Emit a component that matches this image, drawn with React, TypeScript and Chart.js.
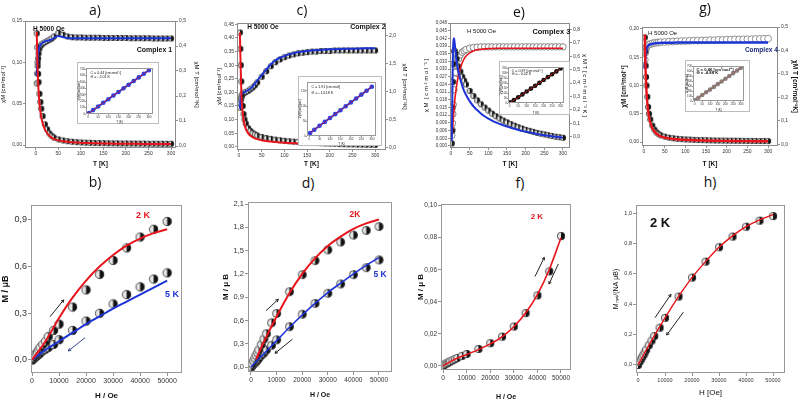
import React, { useEffect, useRef } from 'react';
import { Chart, registerables } from 'chart.js';

Chart.register(...registerables);
Chart.defaults.font.family = '"Liberation Sans", Arial, sans-serif';

// ---------------- DATA ----------------
const T_TOP = [2, 3, 4, 5, 6, 8, 10, 12, 15, 20, 25, 30, 35, 40, 50, 60, 70, 80, 90, 100, 110, 120, 130, 140, 150, 160, 170, 180, 190, 200, 210, 220, 230, 240, 250, 260, 270, 280, 290, 300];
const T_TICKS = [0, 50, 100, 150, 200, 250, 300];

// Complex 1 (a)
const CHI_A = [0.135, 0.118, 0.100, 0.086, 0.076, 0.062, 0.052, 0.044, 0.035, 0.025, 0.019, 0.014, 0.011, 0.0090, 0.0068, 0.0055, 0.0046, 0.0040, 0.0035, 0.0031, 0.0029, 0.0027, 0.0025, 0.0024, 0.0023, 0.0022, 0.0021, 0.0020, 0.0019, 0.0019, 0.0018, 0.0018, 0.0017, 0.0017, 0.0016, 0.0016, 0.0016, 0.0015, 0.0015, 0.0015];
const FIT_CHI_A = [0.137, 0.112, 0.092, 0.077, 0.066, 0.051, 0.041, 0.034, 0.027, 0.019, 0.0145, 0.0112, 0.0090, 0.0074, 0.0056, 0.0046, 0.0039, 0.0034, 0.0030, 0.0027, 0.0025, 0.0023, 0.0021, 0.0020, 0.0019, 0.0018, 0.0017, 0.0016, 0.0016, 0.0015, 0.0015, 0.0014, 0.0014, 0.0013, 0.0013, 0.0013, 0.0012, 0.0012, 0.0012, 0.0011];
const CHIT_A = [0.25, 0.29, 0.32, 0.35, 0.37, 0.39, 0.40, 0.405, 0.41, 0.415, 0.42, 0.425, 0.43, 0.438, 0.452, 0.445, 0.438, 0.435, 0.434, 0.434, 0.433, 0.433, 0.433, 0.433, 0.432, 0.432, 0.432, 0.432, 0.432, 0.432, 0.431, 0.431, 0.431, 0.431, 0.431, 0.430, 0.430, 0.430, 0.430, 0.430];
const FIT_CHIT_A = [0.28, 0.32, 0.35, 0.37, 0.38, 0.395, 0.403, 0.408, 0.413, 0.418, 0.421, 0.423, 0.426, 0.432, 0.440, 0.436, 0.432, 0.431, 0.431, 0.431, 0.431, 0.431, 0.431, 0.431, 0.431, 0.431, 0.431, 0.431, 0.431, 0.431, 0.431, 0.431, 0.431, 0.431, 0.431, 0.431, 0.431, 0.431, 0.431, 0.431];

// Complex 2 (c)
const CHI_C = [0.42, 0.36, 0.30, 0.24, 0.19, 0.15, 0.12, 0.10, 0.085, 0.068, 0.058, 0.050, 0.045, 0.041, 0.036, 0.032, 0.029, 0.026, 0.024, 0.022, 0.020, 0.019, 0.018, 0.017, 0.016, 0.015, 0.014, 0.013, 0.012, 0.0115, 0.011, 0.010, 0.0095, 0.009, 0.0085, 0.008, 0.0077, 0.0074, 0.0071, 0.0068];
const FIT_CHI_C = [0.42, 0.34, 0.27, 0.21, 0.17, 0.13, 0.10, 0.083, 0.066, 0.050, 0.041, 0.035, 0.031, 0.028, 0.024, 0.021, 0.019, 0.017, 0.016, 0.0148, 0.0138, 0.013, 0.0122, 0.0115, 0.011, 0.0104, 0.0099, 0.0094, 0.009, 0.0086, 0.0082, 0.0079, 0.0076, 0.0073, 0.007, 0.0067, 0.0065, 0.0063, 0.0061, 0.0059];
const CHIT_C = [0.72, 0.80, 0.86, 0.90, 0.93, 0.96, 0.98, 0.99, 1.00, 1.02, 1.05, 1.08, 1.12, 1.17, 1.27, 1.37, 1.46, 1.53, 1.58, 1.62, 1.65, 1.67, 1.69, 1.70, 1.71, 1.72, 1.72, 1.73, 1.73, 1.73, 1.74, 1.74, 1.74, 1.74, 1.74, 1.74, 1.74, 1.74, 1.74, 1.74];
const FIT_CHIT_C = [0.70, 0.82, 0.90, 0.94, 0.96, 0.98, 0.99, 1.00, 1.01, 1.03, 1.06, 1.10, 1.15, 1.20, 1.30, 1.40, 1.49, 1.56, 1.61, 1.64, 1.67, 1.69, 1.71, 1.72, 1.73, 1.74, 1.745, 1.75, 1.755, 1.76, 1.76, 1.765, 1.77, 1.77, 1.77, 1.775, 1.775, 1.78, 1.78, 1.78];

// Complex 3 (e)
const CHI_E = [0.001, 0.006, 0.015, 0.025, 0.032, 0.037, 0.037, 0.036, 0.034, 0.031, 0.029, 0.027, 0.0255, 0.024, 0.0215, 0.0195, 0.0178, 0.0163, 0.015, 0.0138, 0.0126, 0.0116, 0.0107, 0.0099, 0.0092, 0.0085, 0.0079, 0.0073, 0.0068, 0.0063, 0.0059, 0.0055, 0.0051, 0.0048, 0.0045, 0.0042, 0.0039, 0.0036, 0.0034, 0.0032];
const FIT_CHI_E = [0.002, 0.012, 0.025, 0.035, 0.040, 0.042, 0.040, 0.037, 0.033, 0.029, 0.026, 0.0235, 0.0215, 0.020, 0.0175, 0.0155, 0.014, 0.0127, 0.0116, 0.0107, 0.0099, 0.0092, 0.0086, 0.0081, 0.0076, 0.0071, 0.0067, 0.0063, 0.0059, 0.0056, 0.0053, 0.005, 0.0047, 0.0044, 0.0042, 0.004, 0.0038, 0.0036, 0.0034, 0.0032];
const CHIT_E = [0.01, 0.05, 0.10, 0.17, 0.24, 0.35, 0.43, 0.48, 0.53, 0.58, 0.61, 0.63, 0.64, 0.65, 0.66, 0.665, 0.668, 0.67, 0.67, 0.67, 0.67, 0.67, 0.67, 0.67, 0.67, 0.67, 0.67, 0.67, 0.67, 0.67, 0.67, 0.67, 0.67, 0.67, 0.67, 0.67, 0.67, 0.67, 0.67, 0.67];
const FIT_CHIT_E = [0.0, 0.02, 0.05, 0.09, 0.13, 0.20, 0.27, 0.32, 0.38, 0.46, 0.51, 0.55, 0.58, 0.60, 0.625, 0.64, 0.648, 0.652, 0.655, 0.657, 0.658, 0.659, 0.66, 0.66, 0.66, 0.66, 0.66, 0.66, 0.66, 0.66, 0.66, 0.66, 0.66, 0.66, 0.66, 0.66, 0.66, 0.66, 0.66, 0.66];

// Complex 4 (g)
const CHI_G = [0.185, 0.160, 0.135, 0.115, 0.100, 0.080, 0.062, 0.050, 0.040, 0.029, 0.022, 0.017, 0.014, 0.012, 0.0095, 0.0078, 0.0067, 0.0058, 0.0052, 0.0047, 0.0043, 0.0039, 0.0036, 0.0034, 0.0032, 0.003, 0.0028, 0.0027, 0.0026, 0.0025, 0.0024, 0.0023, 0.0022, 0.0021, 0.002, 0.002, 0.0019, 0.0018, 0.0018, 0.0017];
const FIT_CHI_G = [0.190, 0.150, 0.125, 0.105, 0.090, 0.070, 0.055, 0.045, 0.035, 0.025, 0.019, 0.015, 0.012, 0.010, 0.008, 0.0066, 0.0056, 0.0049, 0.0043, 0.0039, 0.0035, 0.0032, 0.003, 0.0028, 0.0026, 0.0024, 0.0023, 0.0022, 0.0021, 0.002, 0.0019, 0.0018, 0.0017, 0.0017, 0.0016, 0.0015, 0.0015, 0.0014, 0.0014, 0.0014];
const CHIT_G = [0.36, 0.39, 0.40, 0.41, 0.415, 0.42, 0.423, 0.425, 0.427, 0.43, 0.432, 0.433, 0.434, 0.435, 0.436, 0.437, 0.438, 0.439, 0.44, 0.44, 0.441, 0.442, 0.442, 0.443, 0.443, 0.444, 0.444, 0.445, 0.445, 0.446, 0.446, 0.447, 0.447, 0.447, 0.448, 0.448, 0.449, 0.449, 0.45, 0.45];
const FIT_CHIT_G = [0.32, 0.36, 0.38, 0.395, 0.405, 0.415, 0.42, 0.423, 0.426, 0.428, 0.43, 0.431, 0.432, 0.432, 0.433, 0.433, 0.433, 0.434, 0.434, 0.434, 0.434, 0.434, 0.434, 0.434, 0.434, 0.434, 0.434, 0.434, 0.434, 0.434, 0.434, 0.434, 0.434, 0.434, 0.434, 0.434, 0.434, 0.434, 0.434, 0.434];

// Insets: 1/chi vs T
const INSET_T = [5, 25, 50, 75, 100, 125, 150, 175, 200, 225, 250, 275, 300];
const INV_A = [16, 61, 118, 175, 232, 289, 345, 402, 459, 516, 573, 630, 686];
const INV_C = [10, 21, 34, 47, 60, 73, 86, 99, 112, 125, 138, 151, 164];
const INV_E = [6, 29, 57, 86, 115, 144, 172, 201, 230, 259, 287, 316, 345];
const INV_G = [21, 65, 119, 174, 228, 282, 337, 391, 445, 500, 554, 608, 663];

// Magnetization
const H = [0, 500, 1000, 1500, 2000, 2500, 3000, 4000, 5000, 6000, 8000, 10000, 15000, 20000, 25000, 30000, 35000, 40000, 45000, 50000];
const H_FIT = [0, 5000, 10000, 15000, 20000, 25000, 30000, 35000, 40000, 45000, 50000];
const H_FIT_D2 = [2000, 5000, 10000, 15000, 20000, 25000, 30000, 35000, 40000, 45000, 50000];
const H_TICKS = [0, 10000, 20000, 30000, 40000, 50000];

const M_B_2K = [0, 0.015, 0.03, 0.04, 0.05, 0.065, 0.08, 0.10, 0.12, 0.15, 0.19, 0.23, 0.34, 0.45, 0.55, 0.64, 0.72, 0.79, 0.84, 0.89];
const M_B_5K = [0, 0.008, 0.015, 0.022, 0.03, 0.037, 0.045, 0.06, 0.07, 0.08, 0.10, 0.13, 0.19, 0.25, 0.30, 0.36, 0.42, 0.47, 0.52, 0.56];
const FIT_B_2K = [0, 0.12, 0.27, 0.40, 0.51, 0.60, 0.675, 0.735, 0.78, 0.815, 0.84];
const FIT_B_5K = [0, 0.065, 0.12, 0.175, 0.23, 0.28, 0.33, 0.375, 0.42, 0.465, 0.51];

const M_D_2K = [0, 0.04, 0.08, 0.115, 0.15, 0.185, 0.22, 0.29, 0.36, 0.43, 0.57, 0.69, 0.97, 1.19, 1.37, 1.51, 1.61, 1.70, 1.76, 1.81];
const M_D_5K = [0, 0.02, 0.04, 0.055, 0.07, 0.09, 0.11, 0.15, 0.18, 0.22, 0.28, 0.35, 0.52, 0.68, 0.82, 0.95, 1.07, 1.19, 1.28, 1.38];
const FIT_D_2K = [0.10, 0.32, 0.65, 0.95, 1.20, 1.40, 1.56, 1.68, 1.78, 1.85, 1.90];
const FIT_D_5K = [0, 0.17, 0.34, 0.51, 0.67, 0.82, 0.96, 1.08, 1.20, 1.31, 1.41];

const M_F_2K = [0, 0.0008, 0.0013, 0.0017, 0.0021, 0.0025, 0.0029, 0.0036, 0.0043, 0.005, 0.0063, 0.0075, 0.0106, 0.0142, 0.0183, 0.0246, 0.033, 0.044, 0.059, 0.081];
const FIT_F_2K = [0, 0.0042, 0.0072, 0.0102, 0.0138, 0.0182, 0.0245, 0.0330, 0.0445, 0.0600, 0.0800];

const M_H_2K = [0, 0.02, 0.035, 0.05, 0.065, 0.082, 0.10, 0.13, 0.16, 0.19, 0.245, 0.31, 0.45, 0.575, 0.68, 0.775, 0.845, 0.91, 0.95, 0.98];
const FIT_H_2K = [0, 0.16, 0.31, 0.45, 0.575, 0.68, 0.775, 0.85, 0.91, 0.955, 0.99];

// ---------------- HELPERS ----------------
const RED = '#e8141c';
const BLUE = '#1d33d6';

const fmt = (v: number, d: number) => (d === 0 ? String(Math.round(v)) : v.toFixed(d).replace('.', ','));
const pts = (xs: number[], ys: number[]) => xs.map((x, i) => ({ x, y: ys[i] }));

function halfMarker(r: number) {
  const c = document.createElement('canvas');
  const s = Math.ceil(2 * r + 2);
  c.width = s; c.height = s;
  const g = c.getContext('2d')!;
  const cx = s / 2, cy = s / 2;
  g.beginPath(); g.arc(cx, cy, r, 0, Math.PI * 2); g.fillStyle = '#e6e6e6'; g.fill();
  g.beginPath(); g.moveTo(cx, cy - r); g.arc(cx, cy, r, -Math.PI / 2, Math.PI / 2); g.closePath(); g.fillStyle = '#111'; g.fill();
  g.beginPath(); g.arc(cx, cy, r - 0.3, 0, Math.PI * 2); g.strokeStyle = '#333'; g.lineWidth = 0.8; g.stroke();
  return c;
}

const fitLine = (xs: number[], ys: number[], color: string, w: number, axisId = 'y', dash: number[] = []) => ({
  data: pts(xs, ys), borderColor: color, borderWidth: w, pointRadius: 0, showLine: true,
  cubicInterpolationMode: 'monotone', yAxisID: axisId, borderDash: dash, fill: false,
});
const markers = (xs: number[], ys: number[], style: any, axisId = 'y', r = 3, bg = '#fff', bc = '#444') => ({
  data: pts(xs, ys), showLine: false, pointStyle: style, pointRadius: r, pointBorderColor: bc,
  pointBackgroundColor: bg, pointBorderWidth: 0.8, borderColor: bc, backgroundColor: bg, yAxisID: axisId,
});

function axis(o: any, pos: string, size: number) {
  const horiz = pos === 'bottom';
  return {
    type: 'linear', position: pos, min: o.min, max: o.max,
    afterBuildTicks: (s: any) => { s.ticks = o.ticks.map((v: number) => ({ value: v })); },
    afterFit: (s: any) => {
      if (horiz) s.height = size; else s.width = size;
      s.paddingLeft = 0; s.paddingRight = 0; s.paddingTop = 0; s.paddingBottom = 0;
    },
    ticks: {
      autoSkip: false, maxRotation: 0, minRotation: 0, padding: o.tp ?? 1, color: o.tc ?? '#333',
      font: { size: o.fs, weight: o.fw ?? 'normal' }, callback: (v: any) => fmt(Number(v), o.dec),
    },
    grid: { drawOnChartArea: false, drawTicks: true, tickLength: o.tl ?? 2, color: '#777', lineWidth: 0.8 },
    border: { display: false },
    title: {
      display: !!o.title, text: o.title, color: '#111',
      font: { size: o.tfs, weight: o.tb ? 'bold' : 'normal' }, padding: { top: 0, bottom: 0 },
    },
  };
}

const extrasPlugin = {
  id: 'extras',
  beforeDraw(chart: any, _a: any, opts: any) {
    if (opts.bg) {
      const { ctx, width, height } = chart;
      ctx.save(); ctx.fillStyle = opts.bg; ctx.fillRect(0, 0, width, height);
      if (opts.outer) { ctx.strokeStyle = opts.outer; ctx.lineWidth = 1; ctx.strokeRect(0.5, 0.5, width - 1, height - 1); }
      ctx.restore();
    }
  },
  afterDatasetsDraw(chart: any, _a: any, opts: any) {
    const { ctx, chartArea: a, scales } = chart;
    ctx.save();
    if (opts.frame) {
      ctx.strokeStyle = opts.frame; ctx.lineWidth = 1;
      ctx.strokeRect(Math.round(a.left) + 0.5, Math.round(a.top) + 0.5, Math.round(a.width) - 1, Math.round(a.height) - 1);
    }
    (opts.arrows || []).forEach((ar: any) => {
      const x1 = scales.x.getPixelForValue(ar.x1), y1 = scales.y.getPixelForValue(ar.y1);
      const x2 = scales.x.getPixelForValue(ar.x2), y2 = scales.y.getPixelForValue(ar.y2);
      ctx.strokeStyle = ar.color; ctx.lineWidth = 1;
      ctx.beginPath(); ctx.moveTo(x1, y1); ctx.lineTo(x2, y2); ctx.stroke();
      const ang = Math.atan2(y2 - y1, x2 - x1);
      ctx.beginPath();
      ctx.moveTo(x2, y2); ctx.lineTo(x2 - 3 * Math.cos(ang - 0.5), y2 - 3 * Math.sin(ang - 0.5));
      ctx.moveTo(x2, y2); ctx.lineTo(x2 - 3 * Math.cos(ang + 0.5), y2 - 3 * Math.sin(ang + 0.5));
      ctx.stroke();
    });
    (opts.texts || []).forEach((t: any) => {
      const x = scales.x.getPixelForValue(t.x), y = scales.y.getPixelForValue(t.y);
      ctx.font = t.font; ctx.fillStyle = t.color || '#111';
      ctx.textAlign = t.align || 'left'; ctx.textBaseline = 'middle';
      ctx.fillText(t.text, x, y);
    });
    ctx.restore();
  },
};

function build(canvas: HTMLCanvasElement, spec: any) {
  const scales: any = {
    x: axis(spec.x, 'bottom', spec.bh),
    y: axis(spec.y, 'left', spec.lw),
  };
  if (spec.y2) scales.y2 = axis(spec.y2, 'right', spec.rw);
  return new Chart(canvas, {
    type: 'line',
    data: { datasets: spec.datasets },
    options: {
      responsive: false, maintainAspectRatio: false, animation: false,
      layout: { padding: { top: spec.pt, left: 0, right: spec.y2 ? 0 : spec.rw, bottom: 0 } },
      scales,
      plugins: {
        legend: { display: false }, tooltip: { enabled: false },
        extras: { frame: spec.frame || '#8a8a8a', texts: spec.texts || [], arrows: spec.arrows || [], bg: spec.bg, outer: spec.outer },
      } as any,
    } as any,
    plugins: [extrasPlugin as any],
  });
}

// ---------------- PANEL SPECS ----------------
const TOP_FS = 5, TOP_TFS = 6;
const CHI_TITLE = 'χM [cm³mol⁻¹]';
const CHIT_TITLE = 'χM T [cm³mol⁻¹K]';

const topX = (min: number, max: number) => ({ min, max, ticks: T_TICKS, dec: 0, fs: TOP_FS, title: 'T [K]', tfs: 6.5, tb: true });

function specA() {
  const m = halfMarker(3);
  return {
    lw: 25, rw: 24, pt: 9, bh: 20,
    x: topX(-24, 311),
    y: { min: -0.0036, max: 0.15, ticks: [0, 0.05, 0.1, 0.15], dec: 2, fs: TOP_FS, title: CHI_TITLE, tfs: TOP_TFS },
    y2: { min: -0.008, max: 0.5, ticks: [0, 0.1, 0.2, 0.3, 0.4, 0.5], dec: 1, fs: TOP_FS, title: CHIT_TITLE, tfs: TOP_TFS },
    datasets: [
      fitLine(T_TOP, FIT_CHI_A, RED, 2),
      fitLine(T_TOP, FIT_CHIT_A, BLUE, 2, 'y2'),
      markers(T_TOP, CHI_A, m),
      markers(T_TOP, CHIT_A, m, 'y2'),
    ],
    texts: [
      { text: 'H 5000 Oe', x: -6, y: 0.140, font: 'bold 6.5px "Liberation Sans", Arial' },
      { text: 'Complex 1', x: 224, y: 0.115, font: 'bold 7px "Liberation Sans", Arial' },
    ],
  };
}

function specC() {
  const m = halfMarker(3);
  return {
    lw: 21, rw: 22, pt: 11, bh: 18,
    x: topX(-4.4, 324),
    y: { min: -0.012, max: 0.455, ticks: [0, 0.05, 0.1, 0.15, 0.2, 0.25, 0.3, 0.35, 0.4, 0.45], dec: 2, fs: TOP_FS, title: CHI_TITLE, tfs: TOP_TFS },
    y2: { min: -0.036, max: 2.23, ticks: [0, 0.5, 1, 1.5, 2], dec: 1, fs: TOP_FS, title: CHIT_TITLE, tfs: TOP_TFS },
    datasets: [
      fitLine(T_TOP, FIT_CHI_C, RED, 2),
      fitLine(T_TOP, FIT_CHIT_C, BLUE, 2, 'y2'),
      markers(T_TOP, CHI_C, m),
      markers(T_TOP, CHIT_C, m, 'y2'),
    ],
    texts: [
      { text: 'H 5000 Oe', x: 18, y: 0.44, font: 'bold 6.5px "Liberation Sans", Arial' },
      { text: 'Complex 2', x: 245, y: 0.44, font: 'bold 7px "Liberation Sans", Arial' },
    ],
  };
}

function specE() {
  const m = halfMarker(3);
  return {
    lw: 27, rw: 18, pt: 11, bh: 20,
    x: topX(-2.7, 318.8),
    y: {
      min: -0.0008, max: 0.048,
      ticks: [0, 0.003, 0.006, 0.009, 0.012, 0.015, 0.018, 0.021, 0.024, 0.027, 0.030, 0.033, 0.036, 0.039, 0.042, 0.045, 0.048],
      dec: 3, fs: 4.5, title: 'χ M  [ c m ³ m o l ⁻¹ ]', tfs: TOP_TFS,
    },
    y2: { min: -0.084, max: 0.848, ticks: [0, 0.1, 0.2, 0.3, 0.4, 0.5, 0.6, 0.7, 0.8], dec: 1, fs: TOP_FS, title: 'χ M T [ c m ³ m o l ⁻¹ K ]', tfs: TOP_TFS },
    datasets: [
      fitLine(T_TOP, FIT_CHI_E, BLUE, 2),
      fitLine(T_TOP, FIT_CHIT_E, RED, 1.6, 'y2'),
      markers(T_TOP, CHI_E, m),
      markers(T_TOP, CHIT_E, 'circle', 'y2', 3.2, '#fff', '#666'),
    ],
    texts: [
      { text: 'H 5000 Oe', x: 43, y: 0.0446, font: '6px "Liberation Sans", Arial' },
      { text: 'Complex 3', x: 218, y: 0.0446, font: 'bold 7.5px "Liberation Sans", Arial' },
    ],
  };
}

function specG() {
  const m = halfMarker(3);
  return {
    lw: 22, rw: 21, pt: 15, bh: 22,
    x: topX(-4.8, 324),
    y: { min: -0.007, max: 0.2035, ticks: [0, 0.05, 0.1, 0.15, 0.2], dec: 2, fs: TOP_FS, title: CHI_TITLE, tfs: 6.5, tb: true },
    y2: { min: -0.008, max: 0.5, ticks: [0, 0.1, 0.2, 0.3, 0.4, 0.5], dec: 1, fs: TOP_FS, title: CHIT_TITLE, tfs: 6.5, tb: true },
    datasets: [
      fitLine(T_TOP, FIT_CHI_G, RED, 2.4),
      fitLine(T_TOP, FIT_CHIT_G, BLUE, 2.4, 'y2'),
      markers(T_TOP, CHI_G, m),
      markers(T_TOP, CHIT_G, 'circle', 'y2', 3.4, '#fff', '#777'),
    ],
    texts: [
      { text: 'H 5000 Oe', x: 10, y: 0.193, font: '6px "Liberation Sans", Arial' },
      { text: 'Complex 4', x: 244, y: 0.163, font: 'bold 6.5px "Liberation Sans", Arial', color: '#1b2a7a' },
    ],
  };
}

const insetX = { min: -10, max: 320, ticks: T_TICKS, dec: 0, fs: 3, title: 'T (K)', tfs: 3, tl: 1, tp: 0 };
function specInset(inv: number[], yTicks: number[], ymax: number, pointColor: string, lineColor: string, t1: string, t2: string, big = false) {
  return {
    lw: 9, rw: 3, pt: 4, bh: 10, bg: '#fff', outer: '#bdbdbd', frame: '#999',
    x: insetX,
    y: { min: 0, max: ymax, ticks: yTicks, dec: 0, fs: 3, title: '1/χM [mol/cm³]', tfs: 3, tl: 1, tp: 0 },
    datasets: [
      fitLine(INSET_T, inv, lineColor, 1, 'y', [2, 1]),
      { data: pts(INSET_T, inv), borderColor: pointColor, borderWidth: 2, showLine: true, pointRadius: 1.3, pointBackgroundColor: pointColor, pointBorderColor: pointColor, yAxisID: 'y' },
    ],
    texts: [
      { text: t1, x: 12, y: ymax * 0.9, font: (big ? 'bold 4.2px' : '3.6px') + ' "Liberation Sans", Arial' },
      { text: t2, x: 12, y: ymax * 0.8, font: (big ? 'bold 4.2px' : '3.6px') + ' "Liberation Sans", Arial' },
    ],
  };
}

const botX = (min: number, max: number, fs: number, title: string, tfs: number, tb: boolean) => ({ min, max, ticks: H_TICKS, dec: 0, fs, title, tfs, tb, tl: 3 });

function specB() {
  const m = halfMarker(4.5);
  return {
    lw: 31, rw: 18, pt: 13, bh: 28, frame: '#9a9a9a',
    x: botX(-370, 55500, 7, 'H / Oe', 8, true),
    y: { min: -0.084, max: 0.996, ticks: [0, 0.3, 0.6, 0.9], dec: 1, fs: 9, title: 'M / μB', tfs: 9, tb: true, tl: 3 },
    datasets: [
      fitLine(H_FIT, FIT_B_2K, RED, 2),
      fitLine(H_FIT, FIT_B_5K, BLUE, 2),
      markers(H, M_B_2K, m),
      markers(H, M_B_5K, m),
    ],
    texts: [
      { text: '2 K', x: 41100, y: 0.93, font: 'bold 9px "Liberation Sans", Arial', color: RED, align: 'center' },
      { text: '5 K', x: 51800, y: 0.42, font: 'bold 9px "Liberation Sans", Arial', color: BLUE, align: 'center' },
    ],
    arrows: [
      { x1: 6670, y1: 0.278, x2: 11740, y2: 0.386, color: '#222' },
      { x1: 19630, y1: 0.143, x2: 13440, y2: 0.058, color: '#3b4a8a' },
    ],
  };
}

function specD() {
  const m = halfMarker(4.3);
  return {
    lw: 27, rw: 8, pt: 10, bh: 27, frame: '#9a9a9a',
    x: botX(-1170, 55080, 6.5, 'H / Oe', 7, true),
    y: { min: -0.064, max: 2.126, ticks: [0, 0.3, 0.6, 0.9, 1.2, 1.5, 1.8, 2.1], dec: 1, fs: 7.5, title: 'M / μ B', tfs: 8, tb: true, tl: 3 },
    datasets: [
      fitLine(H_FIT_D2, FIT_D_2K, RED, 2),
      fitLine(H_FIT, FIT_D_5K, BLUE, 1.6),
      markers(H, M_D_2K, m),
      markers(H, M_D_5K, m),
    ],
    texts: [
      { text: '2K', x: 40600, y: 1.96, font: 'bold 8.5px "Liberation Sans", Arial', color: RED, align: 'center' },
      { text: '5 K', x: 50400, y: 1.19, font: 'bold 8.5px "Liberation Sans", Arial', color: BLUE, align: 'center' },
    ],
    arrows: [
      { x1: 5860, y1: 0.725, x2: 10660, y2: 0.872, color: '#222' },
      { x1: 16140, y1: 0.357, x2: 9375, y2: 0.177, color: '#222' },
    ],
  };
}

function specF() {
  const m = halfMarker(4);
  return {
    lw: 25, rw: 24, pt: 12, bh: 31, frame: '#9a9a9a',
    x: botX(-850, 54240, 6.5, 'H / Oe', 7, true),
    y: { min: -0.0025, max: 0.101, ticks: [0, 0.02, 0.04, 0.06, 0.08, 0.1], dec: 2, fs: 6.5, title: 'M / μ B', tfs: 8, tb: true, tl: 3 },
    datasets: [
      fitLine(H_FIT, FIT_F_2K, RED, 1.6),
      markers(H, M_F_2K, m),
    ],
    texts: [
      { text: '2 K', x: 39800, y: 0.093, font: 'bold 8px "Liberation Sans", Arial', color: RED, align: 'center' },
    ],
    arrows: [
      { x1: 38980, y1: 0.0558, x2: 42920, y2: 0.0677, color: '#222' },
      { x1: 48860, y1: 0.0636, x2: 44920, y2: 0.0511, color: '#222' },
    ],
  };
}

function specH() {
  const m = halfMarker(4);
  return {
    lw: 24, rw: 14, pt: 13, bh: 25, frame: '#9a9a9a',
    x: botX(-740, 54440, 5.5, 'H [Oe]', 8, false),
    y: { min: -0.053, max: 1.053, ticks: [0, 0.2, 0.4, 0.6, 0.8, 1.0], dec: 1, fs: 5.5, title: 'Mₘₒₗ/(NA μB)', tfs: 7, tb: false, tl: 3 },
    datasets: [
      fitLine(H_FIT, FIT_H_2K, RED, 1.4),
      markers(H, M_H_2K, m),
    ],
    texts: [
      { text: '2 K', x: 4400, y: 0.93, font: 'bold 13px "Liberation Sans", Arial', color: '#111' },
    ],
    arrows: [
      { x1: 6300, y1: 0.311, x2: 12220, y2: 0.465, color: '#222' },
      { x1: 16780, y1: 0.347, x2: 10630, y2: 0.197, color: '#222' },
    ],
  };
}

// ---------------- COMPONENTS ----------------
function ChartCanvas({ box, spec }: { box: number[]; spec: () => any }) {
  const ref = useRef<HTMLCanvasElement>(null);
  useEffect(() => {
    const ch = build(ref.current!, spec());
    return () => ch.destroy();
  }, []);
  return (
    <canvas
      ref={ref}
      width={box[2]}
      height={box[3]}
      style={{ position: 'absolute', left: box[0], top: box[1], width: box[2], height: box[3] }}
    />
  );
}

const letters: [string, number, number][] = [
  ['a)', 95, 10], ['c)', 302, 10], ['e)', 519, 12], ['g)', 705, 8],
  ['b)', 95, 182], ['d)', 308, 183], ['f)', 520, 183], ['h)', 710, 182],
];

export default function App() {
  return (
    <div style={{ position: 'absolute', left: 0, top: 0, width: 799, height: 407, background: '#fff', overflow: 'hidden' }}>
      <ChartCanvas box={[0, 12, 200, 156]} spec={specA} />
      <ChartCanvas box={[216, 12, 192, 156]} spec={specC} />
      <ChartCanvas box={[423, 12, 165, 156]} spec={specE} />
      <ChartCanvas box={[620, 12, 179, 156]} spec={specG} />

      <ChartCanvas box={[77, 62, 82, 62]} spec={() => specInset(INV_A, [0, 100, 200, 300, 400, 500, 600, 700], 720, '#2a3fe0', RED, 'C = 0.44 [cm³mol⁻¹]', 'Θ = - 2.01 K')} />
      <ChartCanvas box={[298, 76, 84, 70]} spec={() => specInset(INV_C, [0, 50, 100, 150], 180, '#2a3fe0', RED, 'C = 1.91 [cm³mol]', 'Θ = - 14.18 K')} />
      <ChartCanvas box={[499, 61, 71, 54]} spec={() => ({ ...specInset(INV_E, [0, 50, 100, 150, 200, 250, 300, 350], 360, '#111', RED, 'C = 0.87 [cm³mol⁻¹]', 'Θ = - 0.02 K'), bh: 12 })} />
      <ChartCanvas box={[685, 60, 65, 52]} spec={() => ({ ...specInset(INV_G, [0, 100, 200, 300, 400, 500, 600, 700], 700, '#888', '#b0443a', 'C = 0.46 [cm³mol⁻¹]', 'Θ = -4.88 K', true), lw: 8, rw: 4, bh: 11 })} />

      <ChartCanvas box={[0, 192, 200, 209]} spec={specB} />
      <ChartCanvas box={[221, 192, 179, 207]} spec={specD} />
      <ChartCanvas box={[416, 192, 179, 209]} spec={specF} />
      <ChartCanvas box={[612, 192, 187, 206]} spec={specH} />

      {letters.map(([t, x, y]) => (
        <div
          key={t}
          style={{
            position: 'absolute', left: x - 10, top: y - 9, width: 20, height: 18, lineHeight: '18px',
            textAlign: 'center', fontFamily: '"Open Sans", "Liberation Sans", Arial, sans-serif', fontSize: 14, color: '#111',
          }}
        >
          {t}
        </div>
      ))}
    </div>
  );
}
